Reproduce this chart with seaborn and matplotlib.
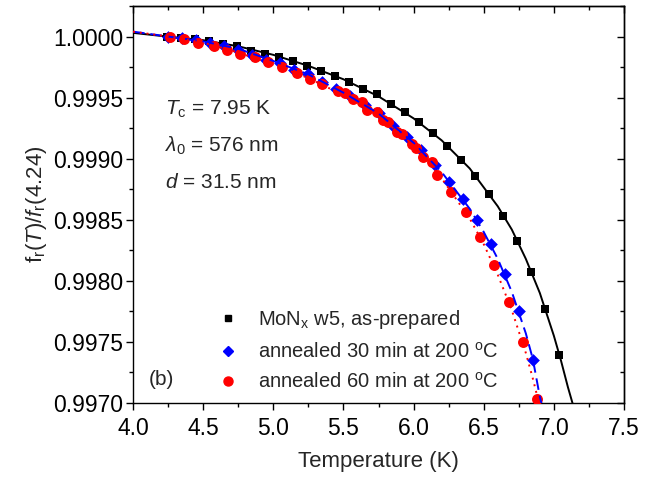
import numpy as np
import matplotlib
matplotlib.use("Agg")
import matplotlib.pyplot as plt
import seaborn as sns
from matplotlib.ticker import MultipleLocator, FormatStrFormatter
from matplotlib.lines import Line2D

# measured points (temperature in K, normalised resonance frequency)
t_prep = [4.24, 4.34, 4.44, 4.54, 4.64, 4.74, 4.84, 4.94, 5.04, 5.14, 5.24, 5.34, 5.44, 5.54,
          5.64, 5.74, 5.84, 5.94, 6.04, 6.14, 6.24, 6.34, 6.44, 6.54, 6.64, 6.74, 6.84, 6.94, 7.04]
f_prep = [1.00000, 0.99999, 0.99998, 0.99996, 0.99994, 0.99992, 0.99988, 0.99986, 0.99983, 0.99980,
          0.99976, 0.99972, 0.99968, 0.99963, 0.99957, 0.99953, 0.99945, 0.99938, 0.99930, 0.99921,
          0.99910, 0.99899, 0.99886, 0.99871, 0.99853, 0.99833, 0.99807, 0.99777, 0.99739]

t_30 = [4.25, 4.35, 4.45, 4.55, 4.65, 4.75, 4.85, 4.95, 5.05, 5.15, 5.25, 5.35, 5.45, 5.55,
        5.65, 5.75, 5.85, 5.95, 6.05, 6.15, 6.25, 6.35, 6.45, 6.55, 6.65, 6.75, 6.85]
f_30 = [1.00000, 0.99999, 0.99997, 0.99995, 0.99992, 0.99989, 0.99985, 0.99981, 0.99978, 0.99973,
        0.99969, 0.99963, 0.99957, 0.99951, 0.99944, 0.99937, 0.99927, 0.99918, 0.99907, 0.99895,
        0.99881, 0.99867, 0.99850, 0.99830, 0.99806, 0.99775, 0.99735]

t_60 = [4.26, 4.36, 4.46, 4.58, 4.67, 4.76, 4.87, 4.96, 5.06, 5.17, 5.26, 5.35, 5.46, 5.51,
        5.57, 5.63, 5.67, 5.74, 5.78, 5.82, 5.88, 5.92, 5.99, 6.02, 6.07, 6.13, 6.17, 6.27,
        6.37, 6.47, 6.57, 6.68, 6.78, 6.88]
f_60 = [1.00000, 0.99998, 0.99995, 0.99992, 0.99989, 0.99986, 0.99983, 0.99979, 0.99975, 0.99970,
        0.99965, 0.99961, 0.99955, 0.99954, 0.99949, 0.99946, 0.99940, 0.99938, 0.99932, 0.99930,
        0.99922, 0.99920, 0.99912, 0.99909, 0.99901, 0.99897, 0.99887, 0.99873, 0.99856, 0.99836,
        0.99813, 0.99783, 0.99750, 0.99703]

# fitted curves
fit_t_prep = [4.0, 4.24, 4.5, 4.75, 5.0, 5.25, 5.5, 5.75, 6.0, 6.2, 6.4, 6.6, 6.7, 6.8, 6.9, 7.0,
              7.05, 7.1, 7.14]
fit_f_prep = [1.00003, 1.00000, 0.99997, 0.99992, 0.99985, 0.99976, 0.99965, 0.99951, 0.99933,
              0.99915, 0.99892, 0.99861, 0.99842, 0.99818, 0.99790, 0.99755, 0.99735, 0.99713, 0.99697]

fit_t_30 = [4.0, 4.25, 4.5, 4.75, 5.0, 5.25, 5.5, 5.75, 6.0, 6.2, 6.4, 6.5, 6.6, 6.7, 6.8, 6.85,
            6.9, 6.92]
fit_f_30 = [1.00004, 1.00000, 0.99996, 0.99990, 0.99980, 0.99969, 0.99954, 0.99937, 0.99913,
            0.99889, 0.99859, 0.99840, 0.99818, 0.99791, 0.99757, 0.99736, 0.99705, 0.99696]

fit_t_60 = [4.0, 4.25, 4.5, 4.75, 5.0, 5.25, 5.5, 5.75, 6.0, 6.2, 6.4, 6.5, 6.6, 6.7, 6.8, 6.85,
            6.9]
fit_f_60 = [1.00004, 1.00000, 0.99995, 0.99987, 0.99977, 0.99966, 0.99952, 0.99935, 0.99911,
            0.99884, 0.99851, 0.99830, 0.99805, 0.99776, 0.99741, 0.99720, 0.99697]

labels = [r"MoN$_\mathrm{x}$ w5, as-prepared",
          r"annealed 30 min at 200 $^\mathrm{o}$C",
          r"annealed 60 min at 200 $^\mathrm{o}$C"]

sns.set_style("ticks")
plt.rcParams['font.family'] = ['Liberation Sans', 'DejaVu Sans']
plt.rcParams['mathtext.fontset'] = 'custom'
plt.rcParams['mathtext.rm'] = 'Liberation Sans'
plt.rcParams['mathtext.it'] = 'Liberation Sans:italic'
plt.rcParams['axes.linewidth'] = 1.0
plt.rcParams['axes.edgecolor'] = 'black'
plt.rcParams['xtick.color'] = 'black'
plt.rcParams['ytick.color'] = 'black'

fig = plt.figure(figsize=(6.49, 4.79), dpi=100)
ax = fig.add_axes([0.205, 0.1587, 0.7565, 0.8288])

# fits
sns.lineplot(x=fit_t_prep, y=fit_f_prep, ax=ax, color='black', lw=1.4, estimator=None, sort=False)

# data
sns.scatterplot(x=t_prep, y=f_prep, ax=ax, marker='s', color='black', s=38, linewidth=0, zorder=3)
sns.scatterplot(x=t_30, y=f_30, ax=ax, marker='D', color='#0000ff', s=42, linewidth=0, zorder=3)
sns.scatterplot(x=t_60, y=f_60, ax=ax, marker='o', color='#ff0000', s=62, linewidth=0, zorder=4)

sns.lineplot(x=fit_t_30, y=fit_f_30, ax=ax, color='#0000ff', lw=1.4, estimator=None, sort=False,
             linestyle=(0, (6, 3)), zorder=5)
sns.lineplot(x=fit_t_60, y=fit_f_60, ax=ax, color='#ff0000', lw=1.4, estimator=None, sort=False,
             linestyle=(0, (1, 2.5)), zorder=5)

ax.set_xlim(4.0, 7.5)
ax.set_ylim(0.9970, 1.00025)
ax.xaxis.set_major_locator(MultipleLocator(0.5))
ax.xaxis.set_minor_locator(MultipleLocator(0.25))
ax.yaxis.set_major_locator(MultipleLocator(0.0005))
ax.yaxis.set_minor_locator(MultipleLocator(0.00025))
ax.xaxis.set_major_formatter(FormatStrFormatter('%.1f'))
ax.yaxis.set_major_formatter(FormatStrFormatter('%.4f'))
ax.tick_params(which='major', direction='out', length=5, width=1, labelsize=16.5)
ax.tick_params(axis='x', which='major', pad=5)
ax.tick_params(axis='y', which='major', pad=2)
ax.tick_params(which='minor', direction='out', length=3, width=1)

# inward ticks on top and right
top = ax.secondary_xaxis('top')
top.xaxis.set_major_locator(MultipleLocator(0.5))
top.xaxis.set_minor_locator(MultipleLocator(0.25))
top.tick_params(which='major', direction='in', length=5, width=1, labeltop=False)
top.tick_params(which='minor', direction='in', length=3, width=1)
right = ax.secondary_yaxis('right')
right.yaxis.set_major_locator(MultipleLocator(0.0005))
right.yaxis.set_minor_locator(MultipleLocator(0.00025))
right.tick_params(which='major', direction='in', length=5, width=1, labelright=False)
right.tick_params(which='minor', direction='in', length=3, width=1)

ax.set_xlabel('Temperature (K)', fontsize=16, labelpad=8)
ax.set_ylabel(r"f$_\mathrm{r}$($T$)/$f_\mathrm{r}$(4.24)", fontsize=16, labelpad=3)

ax.text(0.065, 0.740, r"$T_\mathrm{c}$ = 7.95 K", transform=ax.transAxes, fontsize=15, va='center')
ax.text(0.065, 0.647, r"$\lambda_\mathrm{0}$ = 576 nm", transform=ax.transAxes, fontsize=15, va='center')
ax.text(0.065, 0.555, r"$d$ = 31.5 nm", transform=ax.transAxes, fontsize=15, va='center')
ax.text(0.033, 0.058, "(b)", transform=ax.transAxes, fontsize=15, va='center')

handles = [Line2D([], [], ls='none', marker='s', color='black', markersize=5),
           Line2D([], [], ls='none', marker='D', color='#0000ff', markersize=5.5),
           Line2D([], [], ls='none', marker='o', color='#ff0000', markersize=6.5)]
ax.legend(handles, labels, loc='upper left', bbox_to_anchor=(0.165, 0.238), frameon=False,
          fontsize=14.5, borderpad=0, borderaxespad=0, handlelength=1.4, handletextpad=0.8,
          labelspacing=0.5)

fig.savefig('out.png', dpi=100)
